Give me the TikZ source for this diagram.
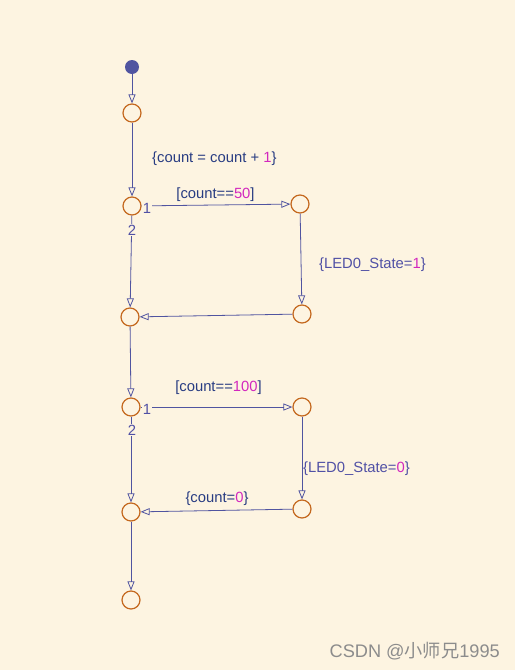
\documentclass[tikz,border=0pt]{standalone}
\usepackage{fontspec}
\setmainfont{Liberation Sans}
\newfontfamily\cjk{Noto Sans CJK SC}
\usetikzlibrary{arrows.meta}
\definecolor{bg}{RGB}{253,244,225}
\definecolor{junc}{RGB}{196,104,30}
\definecolor{wire}{RGB}{80,84,160}
\definecolor{navy}{RGB}{40,60,130}
\definecolor{lav}{RGB}{80,80,165}
\definecolor{mag}{RGB}{210,40,190}
\definecolor{wm}{RGB}{140,140,140}
\begin{document}
\begin{tikzpicture}[x=1pt,y=-1pt,
  jn/.style={circle,draw=junc,line width=1.2pt,minimum size=18pt,inner sep=0pt},
  initdot/.style={circle,fill=wire,minimum size=14pt,inner sep=0pt},
  wirel/.style={draw=wire,line width=0.8pt,-{Triangle[open,length=9pt,width=7pt]}},
  lbl/.style={font=\fontsize{14.8}{17}\selectfont,inner sep=0pt},
  prio/.style={font=\fontsize{14.8}{17}\selectfont,text=lav,fill=bg,inner sep=1pt}]
\fill[bg] (0,0) rectangle (515,670);
\useasboundingbox (0,0) rectangle (515,670);
\node[initdot] (s0) at (132,67) {};
\node[jn] (j1) at (132,113) {};
\node[jn] (j2) at (132,206) {};
\node[jn] (j3) at (300,204) {};
\node[jn] (j4) at (302,314) {};
\node[jn] (j5) at (130,317) {};
\node[jn] (j6) at (131,407) {};
\node[jn] (j7) at (302,407) {};
\node[jn] (j8) at (302,509) {};
\node[jn] (j9) at (131,512) {};
\node[jn] (j10) at (131,600) {};
\draw[wirel] (s0) -- (j1);
\draw[wirel] (j1) -- (j2);
\draw[wirel] (j2) -- (j3);
\draw[wirel] (j2) -- (j5);
\draw[wirel] (j3) -- (j4);
\draw[wirel] (j4) -- (j5);
\draw[wirel] (j5) -- (j6);
\draw[wirel] (j6) -- (j7);
\draw[wirel] (j6) -- (j9);
\draw[wirel] (j7) -- (j8);
\draw[wirel] (j8) -- (j9);
\draw[wirel] (j9) -- (j10);
\node[prio] (p1a) at (147,208) {1};
\node[prio] (p2a) at (132,230) {2};
\node[prio] (p1b) at (147,409) {1};
\node[prio] (p2b) at (132,430) {2};
\node[lbl,text=navy,anchor=west] (l1) at (152,158.5) {\{count = count + \textcolor{mag}{1}\}};
\node[lbl,text=navy] (l2) at (215.5,194.5) {[count==\textcolor{mag}{50}]};
\node[lbl,text=lav,anchor=west] (l3) at (319,264.5) {\{LED0\_State=\textcolor{mag}{1}\}};
\node[lbl,text=navy] (l4) at (218.5,387.5) {[count==\textcolor{mag}{100}]};
\node[lbl,text=lav,anchor=west] (l5) at (303,468.5) {\{LED0\_State=\textcolor{mag}{0}\}};
\node[lbl,text=navy] (l6) at (217,498.5) {\{count=\textcolor{mag}{0}\}};
\node[text=wm,font=\fontsize{18.2}{21}\selectfont,anchor=east,inner sep=0pt] (wmk) at (500,651) {CSDN @{\cjk 小师兄}1995};
\end{tikzpicture}
\end{document}
